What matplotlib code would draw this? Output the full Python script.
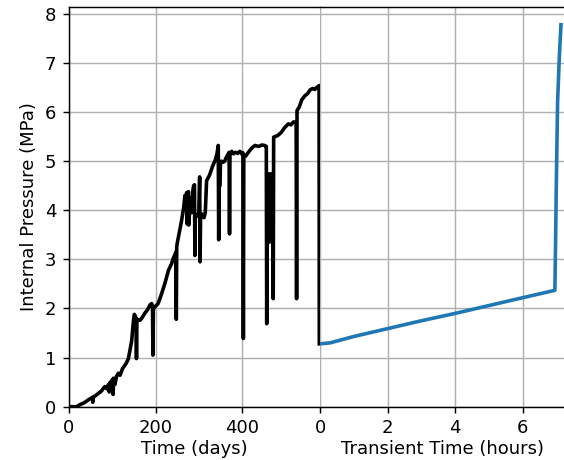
import matplotlib
matplotlib.use("Agg")
import matplotlib.pyplot as plt

# storage phase, (day, MPa)
storage_points = [
    (0, 0.0), (18, 0.0), (25, 0.04), (35, 0.08), (45, 0.14), (54, 0.19), (55, 0.09),
    (56, 0.19), (65, 0.25), (75, 0.32), (83, 0.41), (88, 0.36), (91, 0.45), (93, 0.30),
    (95, 0.50), (98, 0.38), (100, 0.55), (102, 0.25), (103, 0.58), (106, 0.45),
    (110, 0.62), (114, 0.68), (118, 0.64), (124, 0.78), (132, 0.88), (137, 0.97),
    (141, 1.15), (145, 1.35), (149, 1.75), (151, 1.88), (153, 1.85), (155, 1.80),
    (156, 0.98), (157, 1.78), (164, 1.76), (168, 1.80), (175, 1.90), (182, 1.98),
    (187, 2.07), (191, 2.10), (193, 2.05), (194, 1.05), (195, 1.97), (197, 2.02),
    (206, 2.10), (214, 2.30), (222, 2.52), (230, 2.78), (237, 2.91), (241, 3.02),
    (245, 3.10), (247, 3.15), (248, 1.78), (249, 3.25), (250, 3.32), (255, 3.55),
    (260, 3.78), (265, 4.05), (268, 4.30), (270, 4.20), (272, 4.36), (273, 3.72),
    (274, 4.30), (276, 4.38), (277, 3.70), (279, 4.05), (281, 4.25), (283, 3.95),
    (286, 4.38), (288, 4.50), (290, 4.52), (291, 3.08), (292, 3.90), (296, 3.88),
    (300, 3.95), (302, 4.68), (303, 2.95), (304, 3.85), (308, 3.92), (312, 3.85),
    (315, 3.95), (318, 4.60), (325, 4.72), (332, 4.90), (338, 5.02), (342, 5.15),
    (345, 5.32), (346, 3.40), (347, 4.50), (349, 4.50), (350, 4.95), (352, 5.00),
    (356, 4.98), (360, 5.00), (362, 5.05), (370, 5.18), (371, 3.52), (372, 5.15),
    (376, 5.20), (380, 5.15), (385, 5.18), (390, 5.16), (395, 5.20), (400, 5.14),
    (402, 5.17), (403, 1.39), (404, 5.12), (408, 5.10), (412, 5.15), (418, 5.22),
    (424, 5.28), (430, 5.32), (438, 5.30), (446, 5.33), (452, 5.32), (456, 5.30),
    (457, 1.69), (458, 4.72), (461, 4.74), (463, 3.35), (464, 4.72), (466, 4.74),
    (470, 4.74), (472, 2.20), (473, 5.49), (476, 5.50), (482, 5.52), (490, 5.58),
    (498, 5.68), (507, 5.76), (513, 5.74), (519, 5.80), (525, 5.78), (526, 2.20),
    (527, 6.03), (532, 6.10), (538, 6.25), (545, 6.33), (552, 6.38), (557, 6.45),
    (563, 6.48), (568, 6.46), (572, 6.50), (576, 6.52), (578, 6.54), (578.5, 1.28),
]
days = [d for d, _ in storage_points]
pressure_storage = [p for _, p in storage_points]

# transient phase (hours)
hours = [0, 0.3, 1, 2, 3, 4, 5, 6, 6.95, 6.97, 6.99, 7.03, 7.08, 7.13]
pressure_transient = [1.28, 1.30, 1.43, 1.59, 1.75, 1.90, 2.06, 2.22, 2.37, 3.3,
                      4.4, 6.2, 7.1, 7.78]

dpi = 130
fig = plt.figure(figsize=(564 / dpi, 460 / dpi), dpi=dpi)
ax1 = fig.add_axes([0.1223, 0.1159, 0.4450, 0.8689])
ax2 = fig.add_axes([0.5674, 0.1159, 0.4326, 0.8689], sharey=ax1)

ax1.plot(days, pressure_storage, color="k", lw=2)
ax2.plot(hours, pressure_transient, color="#1f77b4", lw=2)

ax1.set_xlim(0, 580)
ax2.set_xlim(0, 7.22)
ax1.set_ylim(0, 8.14)
ax1.set_xticks([0, 200, 400])
ax2.set_xticks([0, 2, 4, 6])
ax1.set_yticks(range(0, 9))

ax1.spines["right"].set_visible(False)
ax2.spines["left"].set_visible(False)
ax2.spines["right"].set_visible(False)
ax2.tick_params(axis="y", left=False, labelleft=False)

ax1.grid(True)
ax2.grid(True)

ax1.set_xlabel("Time (days)", labelpad=1.5)
ax2.set_xlabel("Transient Time (hours)", labelpad=1.5)
ax1.set_ylabel("Internal Pressure (MPa)")

fig.savefig("out.png", dpi=dpi)
